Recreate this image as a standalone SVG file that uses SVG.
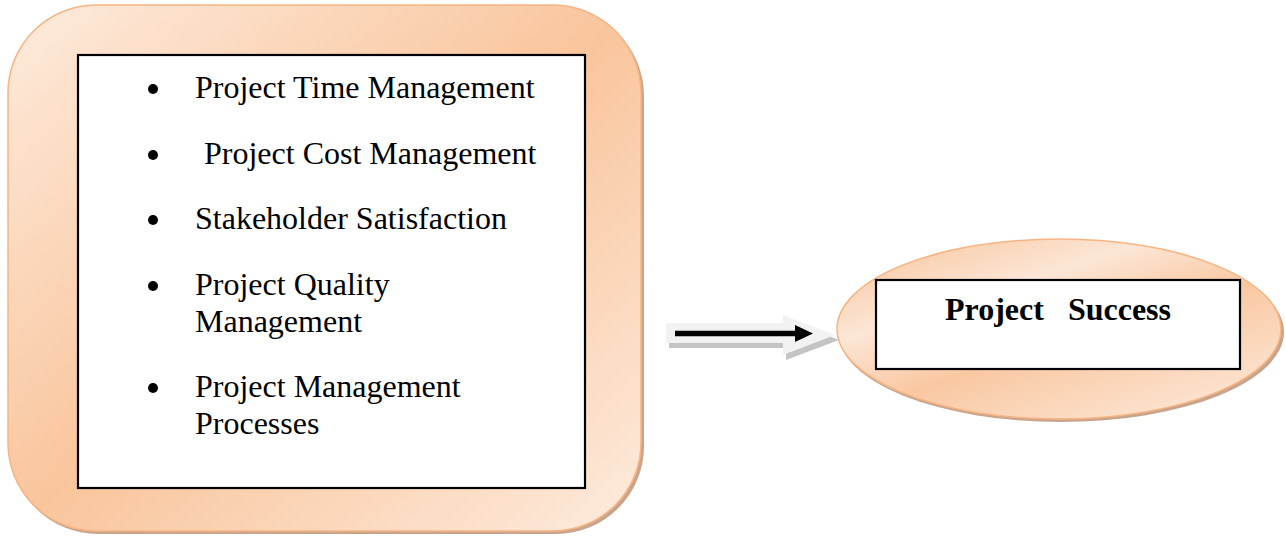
<svg xmlns="http://www.w3.org/2000/svg" width="1285" height="537" viewBox="0 0 1285 537">
  <defs>
    <linearGradient id="gBox" x1="0" y1="0" x2="1" y2="1">
      <stop offset="0" stop-color="#fdebdd"/>
      <stop offset="0.5" stop-color="#f9c59c"/>
      <stop offset="1" stop-color="#fdebdd"/>
    </linearGradient>
    <linearGradient id="gEll" x1="0.1" y1="0" x2="0.9" y2="1">
      <stop offset="0" stop-color="#f8c7a0"/>
      <stop offset="0.3" stop-color="#fce6d6"/>
      <stop offset="0.55" stop-color="#f9c8a2"/>
      <stop offset="1" stop-color="#fde9da"/>
    </linearGradient>
    <style>
      .shadow { fill: #c9a48c; }
      .orange { stroke: #f6b482; stroke-width: 1.5; }
      .frame { fill: #ffffff; stroke: #000000; stroke-width: 2.2; }
      .item { font-family: "Liberation Serif", "Times New Roman", serif; font-size: 32px; fill: #000000; }
      .title { font-family: "Liberation Serif", "Times New Roman", serif; font-size: 32px; font-weight: bold; fill: #000000; }
    </style>
  </defs>

  <g id="factors">
    <rect class="shadow" x="10" y="8" width="634" height="526" rx="88" ry="88"/>
    <rect class="orange" x="8" y="5" width="633" height="526" rx="88" ry="88" fill="url(#gBox)"/>
    <rect class="frame" x="78" y="55" width="507" height="433"/>
    <g>
      <circle cx="153" cy="89" r="5"/>
      <text class="item" x="195" y="98">Project Time Management</text>
      <circle cx="153" cy="155" r="5"/>
      <text class="item" x="204" y="164">Project Cost Management</text>
      <circle cx="153" cy="220" r="5"/>
      <text class="item" x="195" y="229">Stakeholder Satisfaction</text>
      <circle cx="153" cy="286" r="5"/>
      <text class="item" x="195" y="295">Project Quality</text>
      <text class="item" x="195" y="332">Management</text>
      <circle cx="153" cy="388" r="5"/>
      <text class="item" x="195" y="397">Project Management</text>
      <text class="item" x="195" y="434">Processes</text>
    </g>
  </g>

  <g id="connectors">
    <polygon points="669,328 786,328 786,319 839,340 786,360 786,348 669,348" fill="#c4c4c4"/>
    <polygon points="666,323 783,323 783,315 835,335 783,355 783,343 666,343" fill="#f2f2f2"/>
    <line x1="675" y1="333.5" x2="798" y2="333.5" stroke="#000000" stroke-width="5.5"/>
    <polygon points="795,325 813,333.5 795,342" fill="#000000"/>
  </g>

  <g id="success">
    <ellipse class="shadow" cx="1061" cy="332" rx="223" ry="90"/>
    <ellipse class="orange" cx="1059" cy="329" rx="222" ry="90" fill="url(#gEll)"/>
    <rect class="frame" x="876" y="280" width="364" height="89"/>
    <text class="title" x="945" y="320" xml:space="preserve">Project   Success</text>
  </g>
</svg>
